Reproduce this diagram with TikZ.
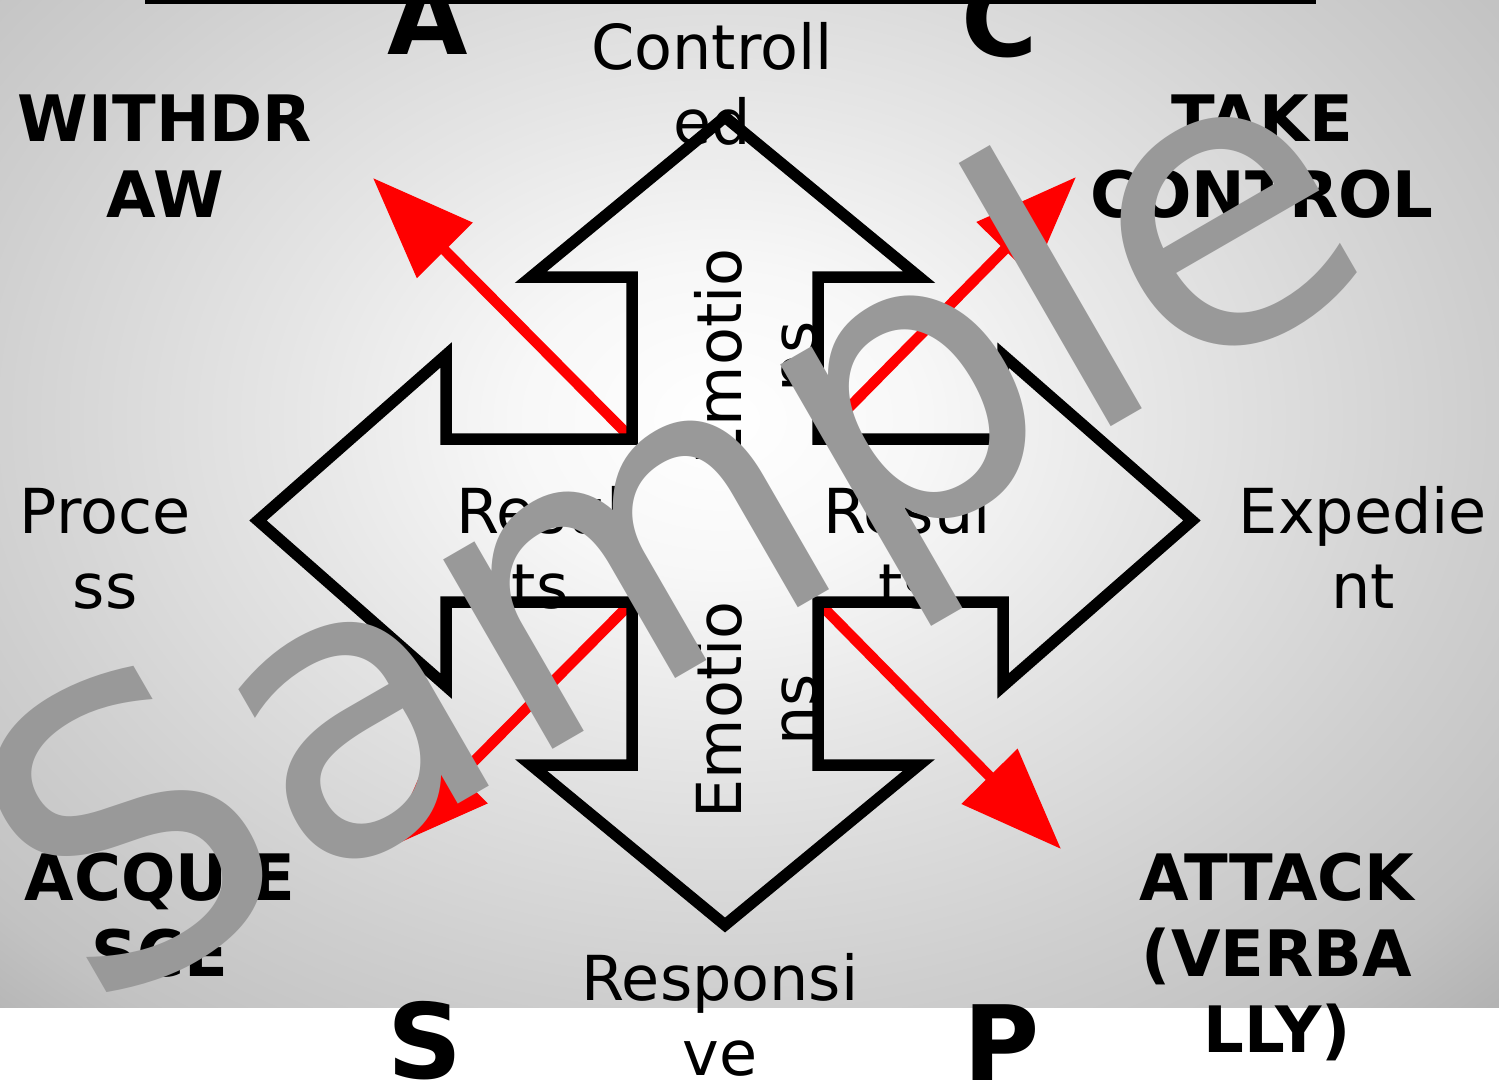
\documentclass[tikz,border=0pt]{standalone}
\usepackage{fontspec}
\setmainfont{DejaVu Sans}
\usetikzlibrary{arrows.meta}
\definecolor{wmgray}{HTML}{999999}
\definecolor{arrowred}{HTML}{FF0000}
% soft grey glow behind the figure, white in the middle
% (the shaded path's bounding box spans -25bp..25bp of the shading)
\pgfdeclareradialshading{bgglow}{\pgfpoint{0bp}{0bp}}{%
  color(0bp)=(white);
  color(6.5bp)=(white!97!black);
  color(14bp)=(white!90!black);
  color(24.5bp)=(white!81!black);
  color(31bp)=(white!76!black);
  color(38bp)=(white!66!black);
  color(50bp)=(white!66!black)}
\begin{document}
\begin{tikzpicture}[x=1pt,y=-1pt,
  every node/.style={inner sep=0pt,outer sep=0pt},
  plain/.style={font=\fontsize{62}{75}\selectfont,align=center,anchor=base},
  strong/.style={font=\fontsize{64}{76}\selectfont\bfseries,align=center,anchor=base},
  corner/.style={font=\fontsize{104}{104}\selectfont\bfseries,anchor=base},
  cross/.style={draw=black,line width=11.5pt,line join=miter},
  push/.style={draw=arrowred,line width=10.5pt,-{Triangle[length=102pt,width=76pt]}},
  rule/.style={draw=black,line width=6pt},
  ]
\useasboundingbox (0,0) rectangle (1499,1089);

% background panel
\begin{scope}
  \clip (0,0) rectangle (1499,1007);
  \shade[shading=bgglow] (-60,-170) rectangle (1500,1010);
\end{scope}

% top rule
\coordinate (ruleL) at (145,1);
\coordinate (ruleR) at (1316,1);
\draw[rule] (ruleL) -- (ruleR);

% inner corners of the cross and ends of the diagonal arrows
\coordinate (cUL) at (632,439);
\coordinate (cUR) at (818,439);
\coordinate (cLL) at (632,602);
\coordinate (cLR) at (818,602);
\coordinate (tUL) at (373,178);
\coordinate (tUR) at (1076,177);
\coordinate (tLL) at (388,848);
\coordinate (tLR) at (1061,849);

\draw[push] (cUL) -- (tUL);
\draw[push] (cUR) -- (tUR);
\draw[push] (cLL) -- (tLL);
\draw[push] (cLR) -- (tLR);

% four-way arrow outline
\draw[cross] (725,117) -- (919,277) -- (818,277) -- (cUR) -- (1003,439)
  -- (1003,355) -- (1192,520.5) -- (1003,686) -- (1003,602) -- (cLR)
  -- (818,765) -- (919,765) -- (725,925) -- (531,765) -- (632,765)
  -- (cLL) -- (446,602) -- (446,686) -- (258,520.5) -- (446,355)
  -- (446,439) -- (cUL) -- (632,277) -- (531,277) -- cycle;

% labels (anchored at the baseline of their last line)
\node[plain] (controlled) at (712,145) {Controll\\ed};
\node[plain] (responsive) at (720,1075) {Responsi\\ve};
\node[plain] (process) at (105,608) {Proce\\ss};
\node[plain] (expedient) at (1363,608) {Expedie\\nt};
\node[plain] (resultsL) at (540,608) {Resul\\ts};
\node[plain] (resultsR) at (907,608) {Resul\\ts};
\node[plain,rotate=90] (emoUp) at (816,357) {Emotio\\ns};
\node[plain,rotate=90] (emoDown) at (816,710) {Emotio\\ns};

\node[strong] (withdraw) at (165,217) {WITHDR\\AW};
\node[strong] (takecontrol) at (1262,217) {TAKE\\CONTROL};
\node[strong] (acquiesce) at (160,976) {ACQUIE\\SCE};
\node[strong] (attack) at (1277,1052) {ATTACK\\(VERBA\\LLY)};

\node[corner] (letterA) at (428,55) {A};
\node[corner] (letterC) at (1000,57) {C};
\node[corner] (letterS) at (425,1078) {S};
\node[corner] (letterP) at (1002,1080) {P};

% watermark
\node[font=\fontsize{400}{400}\selectfont,text=wmgray,rotate=30,anchor=base west]
  (sample) at (89,1017) {Sample};
\end{tikzpicture}
\end{document}
